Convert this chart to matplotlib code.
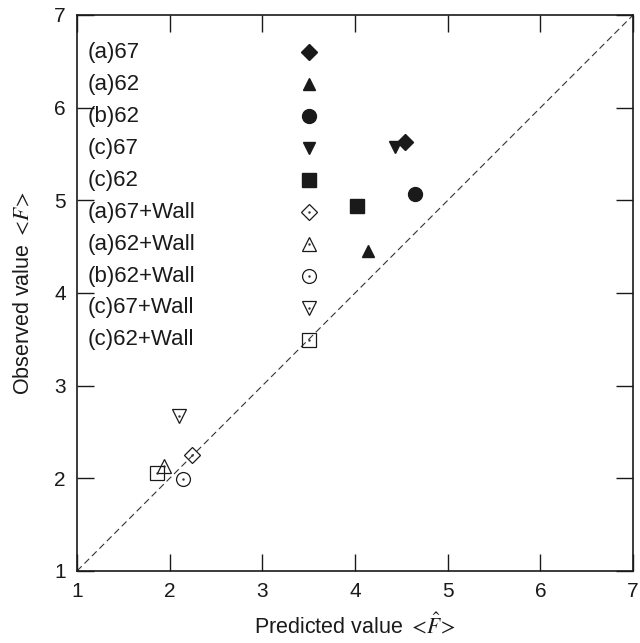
import numpy as np
import matplotlib.pyplot as plt

plt.rcParams['font.family'] = ['Liberation Sans', 'DejaVu Sans']
plt.rcParams['mathtext.fontset'] = 'stix'

# data
labels = ['(a)67', '(a)62', '(b)62', '(c)67', '(c)62',
          '(a)67+Wall', '(a)62+Wall', '(b)62+Wall', '(c)67+Wall', '(c)62+Wall']
predicted = [4.54, 4.14, 4.65, 4.43, 4.02, 2.24, 1.94, 2.14, 2.10, 1.86]
observed = [5.63, 4.45, 5.07, 5.57, 4.94, 2.25, 2.13, 1.99, 2.67, 2.06]
markers = ['D', '^', 'o', 'v', 's', 'D', '^', 'o', 'v', 's']
filled = [True, True, True, True, True, False, False, False, False, False]
sizes = [8, 9, 10, 9, 10, 8, 9.5, 10, 9.5, 10]

fig = plt.figure(figsize=(6.4, 6.43), dpi=100)
ax = fig.add_axes([0.1203, 0.112, 0.869, 0.8647])

ax.plot([1, 7], [1, 7], ls=(0, (6, 3.5)), c='#333333', lw=0.8, zorder=1)

leg_x = 0.4167
leg_top = 0.933
leg_step = 0.0575

for i in range(len(labels)):
    if filled[i]:
        kw = dict(marker=markers[i], ms=sizes[i], mfc='#1a1a1a', mec='#1a1a1a', ls='none')
    else:
        kw = dict(marker=markers[i], ms=sizes[i], mfc='none', mec='#1a1a1a', mew=0.9, ls='none')
    ax.plot(predicted[i], observed[i], zorder=3, **kw)
    yl = leg_top - i * leg_step
    ax.plot(leg_x, yl, transform=ax.transAxes, zorder=3, **kw)
    if not filled[i]:
        ax.plot(predicted[i], observed[i], marker='.', ms=1.5, c='#333333', zorder=3)
        ax.plot(leg_x, yl, marker='.', ms=1.5, c='#333333', transform=ax.transAxes, zorder=3)
    ax.text(0.02, yl, labels[i], transform=ax.transAxes, fontsize=16,
            va='center', ha='left', color='#1a1a1a')

ax.set_xlim(1, 7)
ax.set_ylim(1, 7)
ax.set_xticks(range(1, 8))
ax.set_yticks(range(1, 8))
ax.tick_params(direction='in', length=12, width=1, labelsize=15, top=True, right=True,
               colors='#1a1a1a', pad=8)
for s in ax.spines.values():
    s.set_linewidth(1.2)
    s.set_color('#1a1a1a')

ax.set_xlabel(r'Predicted value ${<}\!\hat{F}\!{>}$', fontsize=15.5, color='#1a1a1a', labelpad=9)
ax.set_ylabel(r'Observed value ${<}\!F\!{>}$', fontsize=15.5, color='#1a1a1a', labelpad=14)

fig.savefig('out.png', dpi=100)
